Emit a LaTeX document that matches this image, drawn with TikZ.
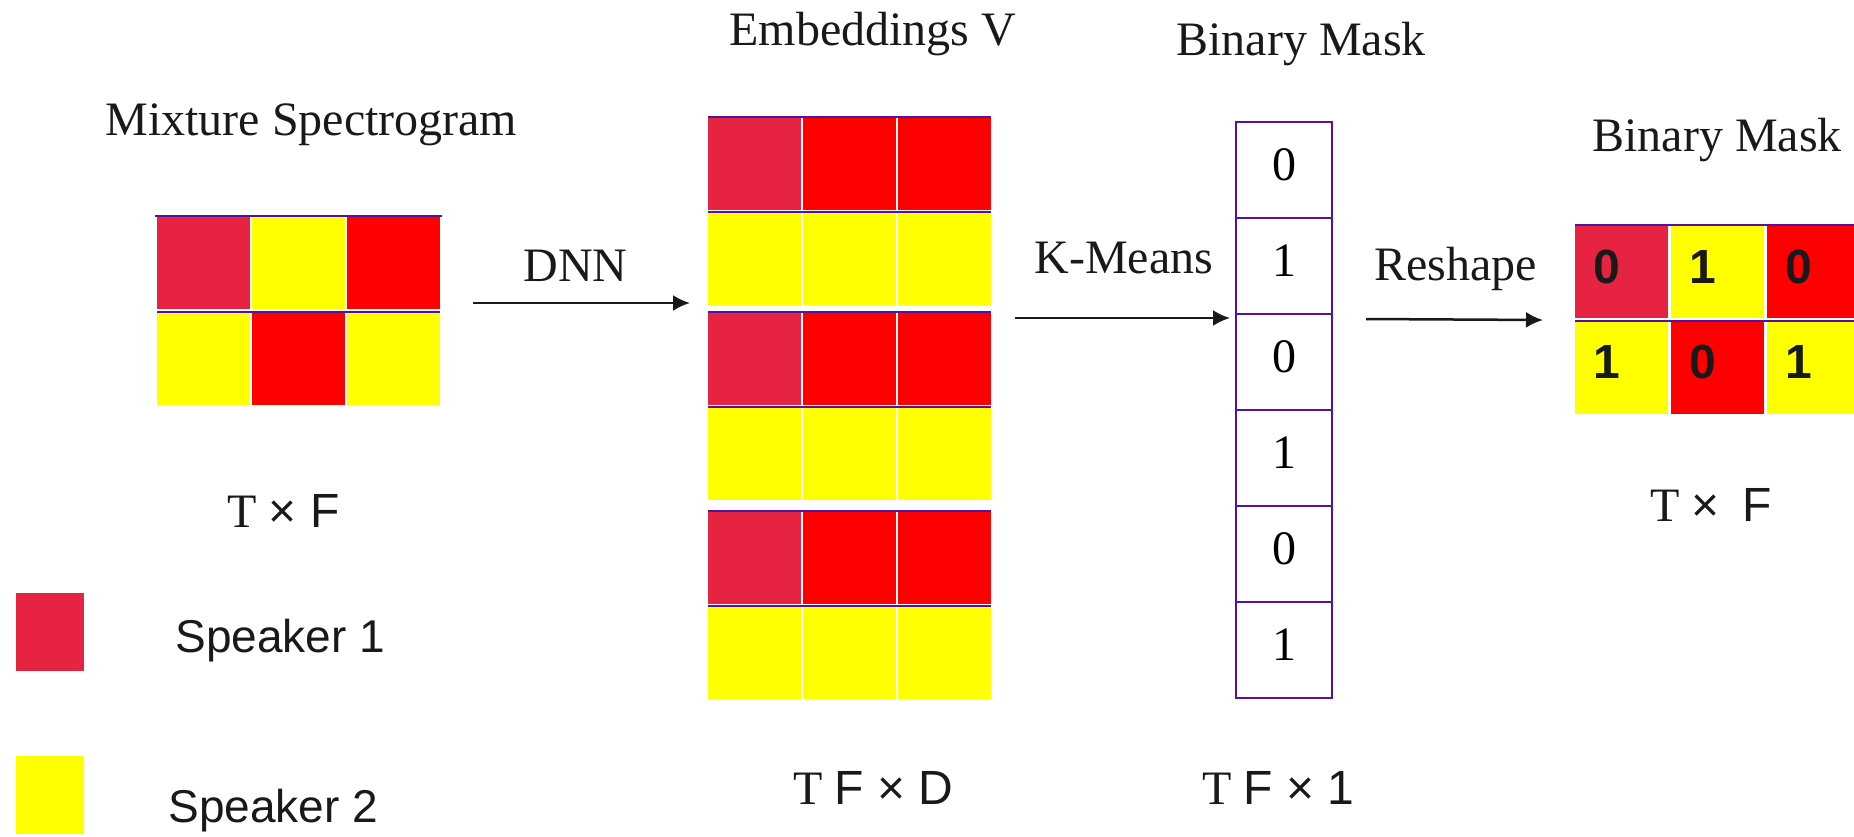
\documentclass[tikz,border=0pt]{standalone}
\usepackage{fontspec}
\setmainfont{Liberation Serif}
\setsansfont{Liberation Sans}
\usetikzlibrary{positioning,arrows.meta,calc}
\definecolor{spkone}{RGB}{230,36,66}
\definecolor{spktwo}{RGB}{255,255,0}
\definecolor{hotred}{RGB}{255,0,0}
\definecolor{gridline}{RGB}{88,16,158}
\tikzset{
  flowarrow/.style={-{Latex[length=8.5pt,width=8pt]}, line width=1.25pt, black!90},
  cell/.style={minimum width=46.5pt, minimum height=46.5pt, inner sep=0pt, outer sep=0pt},
  maskcell/.style={draw=gridline, line width=0.9pt, fill=white, minimum width=48pt, minimum height=48pt, inner sep=0pt, text depth=5pt, font=\fontsize{24}{28}\selectfont},
  legendbox/.style={minimum width=34pt, minimum height=39pt, inner sep=0pt},
  title/.style={anchor=base west, inner sep=0pt, text=black!90, font=\fontsize{24}{28}\selectfont},
  speaker/.style={anchor=base west, inner sep=0pt, text=black!90, font=\fontsize{23}{28}\selectfont\sffamily},
  bitlabel/.style={inner sep=0pt, text=black!90, font=\fontsize{24}{28}\selectfont\sffamily\bfseries},
  rowline/.style={gridline, line width=1pt}
}

\begin{document}
\begin{tikzpicture}[x=0.5pt, y=-0.5pt]
  \useasboundingbox (0,0) rectangle (1854,836);

  % mixture spectrogram
  \foreach \c/\col in {1/spkone,2/spktwo,3/hotred}
    \node[cell, fill=\col] (mx1\c) at (108.5+95*\c,262.5) {};
  \foreach \c/\col in {1/spktwo,2/hotred,3/spktwo}
    \node[cell, fill=\col] (mx2\c) at (108.5+95*\c,358) {};
  \draw[rowline] ([xshift=-1pt]mx11.north west) -- ([xshift=1pt]mx13.north east);
  \draw[rowline] (mx21.north west) -- (mx23.north east);

  % embeddings, three blocks
  \foreach \b/\top in {1/117,2/312,3/511} {
    \foreach \c/\col in {1/spkone,2/hotred,3/hotred}
      \node[cell, fill=\col] (em\b1\c) at (659.5+95*\c,\top+46.5) {};
    \foreach \c in {1,2,3}
      \node[cell, fill=spktwo] (em\b2\c) at (659.5+95*\c,\top+141.5) {};
    \draw[rowline] (em\b11.north west) -- (em\b13.north east);
    \draw[rowline] (em\b21.north west) -- (em\b23.north east);
  }

  % binary mask column
  \foreach \i/\v in {1/0,2/1,3/0,4/1,5/0,6/1}
    \node[maskcell] (bm\i) at (1284,74+96*\i) {\v};

  % reshaped mask
  \foreach \c/\col/\v in {1/spkone/0,2/spktwo/1,3/hotred/0} {
    \node[cell, fill=\col] (rm1\c) at (1525.5+96*\c,271.5) {};
    \node[bitlabel] (bt1\c) at ([shift={(-15,-5)}]rm1\c.center) {\v};
  }
  \foreach \c/\col/\v in {1/spktwo/1,2/hotred/0,3/spktwo/1} {
    \node[cell, fill=\col] (rm2\c) at (1525.5+96*\c,367) {};
    \node[bitlabel] (bt2\c) at ([shift={(-15,-5)}]rm2\c.center) {\v};
  }
  \draw[rowline] (rm11.north west) -- ([xshift=2pt]rm13.north east);
  \draw[rowline] (rm21.north west) -- ([xshift=2pt]rm23.north east);

  % titles and labels
  \node[title] (mixtitle) at (105,135) {Mixture Spectrogram};
  \node[title] (embtitle) at (729,45) {Embeddings V};
  \node[title] (bmtitle) at (1176,55) {Binary Mask};
  \node[title] (rmtitle) at (1592,151) {Binary Mask};
  \node[title] (dnnlbl) at (523,281) {DNN};
  \node[title] (kmlbl) at (1034,273) {K-Means};
  \node[title] (rslbl) at (1374,280) {Reshape};
  \node[title] (mixdim) at (227,527) {T {\sffamily × F}};
  \node[title] (embdim) at (793,804) {T {\sffamily F × D}};
  \node[title] (bmdim) at (1202,804) {T {\sffamily F × 1}};
  \node[title] (rmdim) at (1650,521) {T {\sffamily ×\hspace{11.5pt}F}};

  % legend
  \node[legendbox, fill=spkone] (keyone) at (50,632) {};
  \node[legendbox, fill=spktwo] (keytwo) at (50,794.5) {};
  \node[speaker] (spkonelbl) at (175,652) {Speaker 1};
  \node[speaker] (spktwolbl) at (168,822) {Speaker 2};

  % arrows
  \coordinate (dnnfrom) at (473,303);
  \coordinate (dnnto) at (690,303);
  \coordinate (kmfrom) at (1015,318);
  \coordinate (kmto) at (1230,318);
  \coordinate (rsfrom) at (1366,319);
  \coordinate (rsto) at (1543,320);
  \draw[flowarrow] (dnnfrom) -- (dnnto);
  \draw[flowarrow] (kmfrom) -- (kmto);
  \draw[flowarrow] (rsfrom) -- (rsto);
\end{tikzpicture}
\end{document}
